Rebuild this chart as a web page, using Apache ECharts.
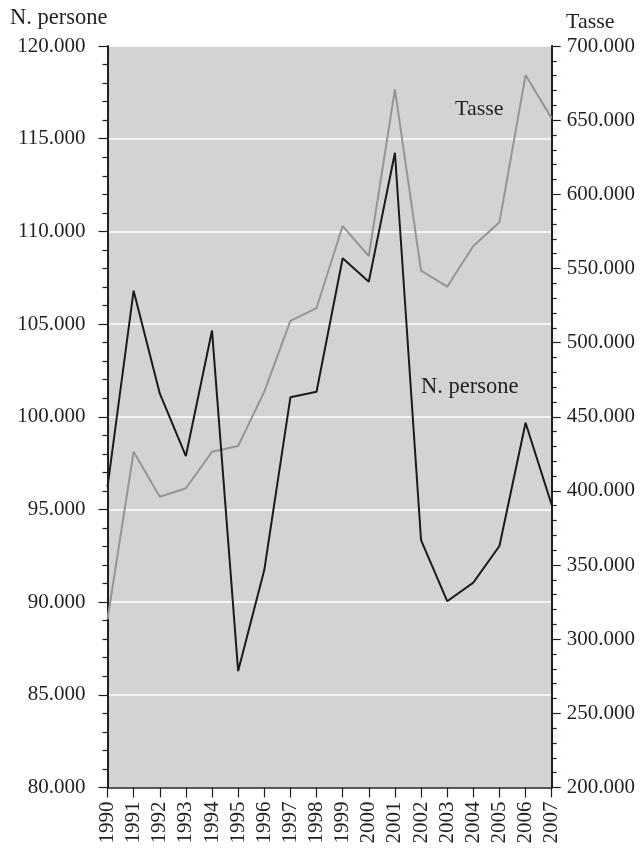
<!DOCTYPE html>
<html>
<head>
<meta charset="utf-8">
<script src="https://cdn.jsdelivr.net/npm/echarts@6/dist/echarts.min.js"></script>
<style>
html,body{margin:0;padding:0;background:#fff;}
#chart{width:640px;height:852px;}
</style>
</head>
<body>
<div id="chart"></div>
<script>
const years = ['1990','1991','1992','1993','1994','1995','1996','1997','1998','1999','2000','2001','2002','2003','2004','2005','2006','2007'];
const persone = [96200,106800,101260,97880,104650,86280,91730,101050,101350,108550,107280,114240,93350,90050,91050,93030,99680,95240];
const tasse = [313400,426400,396100,401800,426400,430300,466900,514600,523300,578600,558400,670800,548500,537700,565100,581100,680400,651200];
const leftName = 'N. persone';
const rightName = 'Tasse';

const FONT = '"Liberation Serif", "DejaVu Serif", serif';
const TXT = '#231f20';
function fmt(v){ return String(v).replace(/\B(?=(\d{3})+(?!\d))/g, '.'); }

const chart = echarts.init(document.getElementById('chart'));
chart.setOption({
  animation: false,
  backgroundColor: '#ffffff',
  grid: {left: 107.5, right: 88.3, top: 46, bottom: 64.5, show: true, backgroundColor: '#d2d3d5', borderWidth: 0},
  xAxis: {
    type: 'category', data: years, boundaryGap: false,
    axisLine: {lineStyle: {color: '#231f20', width: 1.5}},
    axisTick: {show: true, interval: 0, length: 10, lineStyle: {color: '#231f20', width: 1.2}},
    axisLabel: {interval: 0, rotate: 90, margin: 14, fontFamily: FONT, fontSize: 21, color: TXT},
    splitLine: {show: false}
  },
  yAxis: [
    {
      type: 'value', min: 80000, max: 120000, interval: 5000, position: 'left',
      axisLine: {show: true, lineStyle: {color: '#231f20', width: 2}},
      axisTick: {show: true, length: 9, lineStyle: {color: '#231f20', width: 1.2}},
      minorTick: {show: true, splitNumber: 5, length: 5, lineStyle: {color: '#231f20', width: 1.2}},
      axisLabel: {formatter: fmt, margin: 22, fontFamily: FONT, fontSize: 21, color: TXT},
      splitLine: {show: true, lineStyle: {color: '#ffffff', width: 1.5}}
    },
    {
      type: 'value', min: 200000, max: 700000, interval: 50000, position: 'right',
      axisLine: {show: true, lineStyle: {color: '#231f20', width: 2}},
      axisTick: {show: true, length: 9, lineStyle: {color: '#231f20', width: 1.2}},
      minorTick: {show: true, splitNumber: 5, length: 5, lineStyle: {color: '#231f20', width: 1.2}},
      axisLabel: {formatter: fmt, margin: 15, fontFamily: FONT, fontSize: 21, color: TXT},
      splitLine: {show: false}
    }
  ],
  series: [
    {name: rightName, type: 'line', yAxisIndex: 1, data: tasse, showSymbol: false, symbol: 'none',
     lineStyle: {color: '#959595', width: 2}, z: 2},
    {name: leftName, type: 'line', yAxisIndex: 0, data: persone, showSymbol: false, symbol: 'none',
     lineStyle: {color: '#1c1a1b', width: 2}, z: 3}
  ],
  graphic: [
    {type: 'text', left: 10, top: 7, style: {text: leftName, font: '22.5px ' + FONT, fill: TXT}},
    {type: 'text', left: 566, top: 11, style: {text: rightName, font: '22px ' + FONT, fill: TXT}},
    {type: 'text', left: 455, top: 98, style: {text: rightName, font: '22px ' + FONT, fill: TXT}},
    {type: 'text', left: 421, top: 376, style: {text: leftName, font: '22.5px ' + FONT, fill: TXT}}
  ]
});
</script>
</body>
</html>
